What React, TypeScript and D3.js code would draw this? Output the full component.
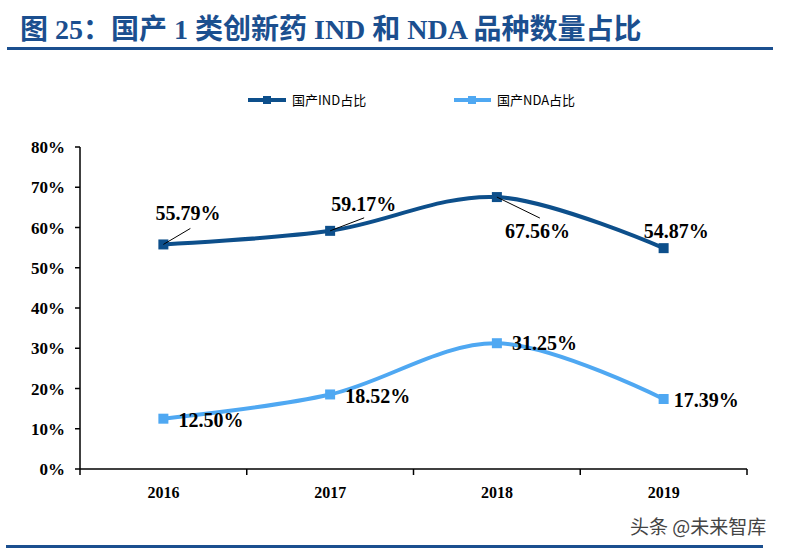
import React from 'react';
import * as d3 from 'd3';

const years = ['2016', '2017', '2018', '2019'];
const indShare = [55.79, 59.17, 67.56, 54.87];
const ndaShare = [12.5, 18.52, 31.25, 17.39];
const yTicks = [0, 10, 20, 30, 40, 50, 60, 70, 80];

const W = 790;
const H = 551;
const IND_COLOR = '#0d4f8b';
const NDA_COLOR = '#4fa8f2';
const TITLE_COLOR = '#1b4f8f';
const serif = '"Liberation Serif", "Times New Roman", "Noto Sans CJK SC", serif';

// label offsets relative to the point (dx = label start, dy = baseline)
const indLabels = [
  { dx: -8, dy: -24, lead: [0, 0, 27, -16] },
  { dx: 1, dy: -20, lead: [0, 0, 34, -13] },
  { dx: 8, dy: 41, lead: [0, 0, 43, 21] },
  { dx: -20, dy: -10, lead: null },
];
const ndaLabels = [
  { dx: 15, dy: 8 },
  { dx: 15, dy: 9 },
  { dx: 15, dy: 7 },
  { dx: 10, dy: 8 },
];

export default function App() {
  const x = d3.scaleBand().domain(years).range([80, 747]);
  const y = d3.scaleLinear().domain([0, 80]).range([469, 147]);
  const cx = (d: string) => (x(d) ?? 0) + x.bandwidth() / 2;

  const line = d3
    .line<number>()
    .x((_, i) => cx(years[i]))
    .y((d) => y(d))
    .curve(d3.curveCardinal.tension(0));

  const fmt = (v: number) => v.toFixed(2) + '%';
  const boundaries = [...years.map((d) => x(d) ?? 0), 747];

  return (
    <div style={{ position: 'absolute', left: 0, top: 0 }}>
      <svg width={W} height={H} style={{ display: 'block', background: '#fff' }}>
        {/* title */}
        <text
          x={20}
          y={39}
          fill={TITLE_COLOR}
          fontFamily={serif}
          fontWeight="bold"
          fontSize={28}
        >
          图 25：国产 1 类创新药 IND 和 NDA 品种数量占比
        </text>
        <rect x={7} y={47} width={766} height={3} fill={TITLE_COLOR} />

        {/* legend */}
        <g>
          <line x1={248} x2={286} y1={100} y2={100} stroke={IND_COLOR} strokeWidth={4} />
          <rect x={263} y={96} width={8} height={8} fill={IND_COLOR} />
          <text x={292} y={105} fontSize={13} fontFamily='"Noto Sans CJK SC", sans-serif' fill="#000">
            国产IND占比
          </text>
          <line x1={454} x2={491} y1={100} y2={100} stroke={NDA_COLOR} strokeWidth={4} />
          <rect x={468} y={96} width={8} height={8} fill={NDA_COLOR} />
          <text x={497} y={105} fontSize={13} fontFamily='"Noto Sans CJK SC", sans-serif' fill="#000">
            国产NDA占比
          </text>
        </g>

        {/* y axis */}
        <line x1={80} x2={80} y1={y(80)} y2={y(0)} stroke="#000" strokeWidth={1.5} />
        {yTicks.map((t) => (
          <g key={t}>
            <line x1={75} x2={80} y1={y(t)} y2={y(t)} stroke="#000" strokeWidth={1.5} />
            <text
              x={65}
              y={y(t) + 6}
              textAnchor="end"
              fontFamily={serif}
              fontWeight="bold"
              fontSize={17}
            >
              {t}%
            </text>
          </g>
        ))}

        {/* x axis */}
        <line x1={80} x2={747} y1={y(0)} y2={y(0)} stroke="#000" strokeWidth={1.5} />
        {boundaries.map((b, i) => (
          <line key={i} x1={b} x2={b} y1={y(0)} y2={y(0) + 6} stroke="#000" strokeWidth={1.5} />
        ))}
        {years.map((d) => (
          <text
            key={d}
            x={cx(d)}
            y={498}
            textAnchor="middle"
            fontFamily={serif}
            fontWeight="bold"
            fontSize={16}
          >
            {d}
          </text>
        ))}

        {/* series */}
        <path d={line(indShare) ?? ''} fill="none" stroke={IND_COLOR} strokeWidth={4} />
        <path d={line(ndaShare) ?? ''} fill="none" stroke={NDA_COLOR} strokeWidth={4} />
        {indShare.map((v, i) => (
          <rect key={i} x={cx(years[i]) - 5} y={y(v) - 5} width={10} height={10} fill={IND_COLOR} />
        ))}
        {ndaShare.map((v, i) => (
          <rect key={i} x={cx(years[i]) - 5} y={y(v) - 5} width={10} height={10} fill={NDA_COLOR} />
        ))}

        {/* data labels */}
        {indShare.map((v, i) => {
          const px = cx(years[i]);
          const py = y(v);
          const l = indLabels[i];
          return (
            <g key={i}>
              {l.lead && (
                <line
                  x1={px + l.lead[0]}
                  y1={py + l.lead[1]}
                  x2={px + l.lead[2]}
                  y2={py + l.lead[3]}
                  stroke="#000"
                  strokeWidth={1}
                />
              )}
              <text x={px + l.dx} y={py + l.dy} fontFamily={serif} fontWeight="bold" fontSize={20}>
                {fmt(v)}
              </text>
            </g>
          );
        })}
        {ndaShare.map((v, i) => {
          const l = ndaLabels[i];
          return (
            <text
              key={i}
              x={cx(years[i]) + l.dx}
              y={y(v) + l.dy}
              fontFamily={serif}
              fontWeight="bold"
              fontSize={20}
            >
              {fmt(v)}
            </text>
          );
        })}

        {/* watermark + bottom rule */}
        <text x={630} y={534} fontSize={19} fill="#444" fontFamily='"Noto Sans CJK SC", sans-serif'>
          头条 @未来智库
        </text>
        <rect x={6} y={545} width={757} height={3} fill={TITLE_COLOR} />
      </svg>
    </div>
  );
}
